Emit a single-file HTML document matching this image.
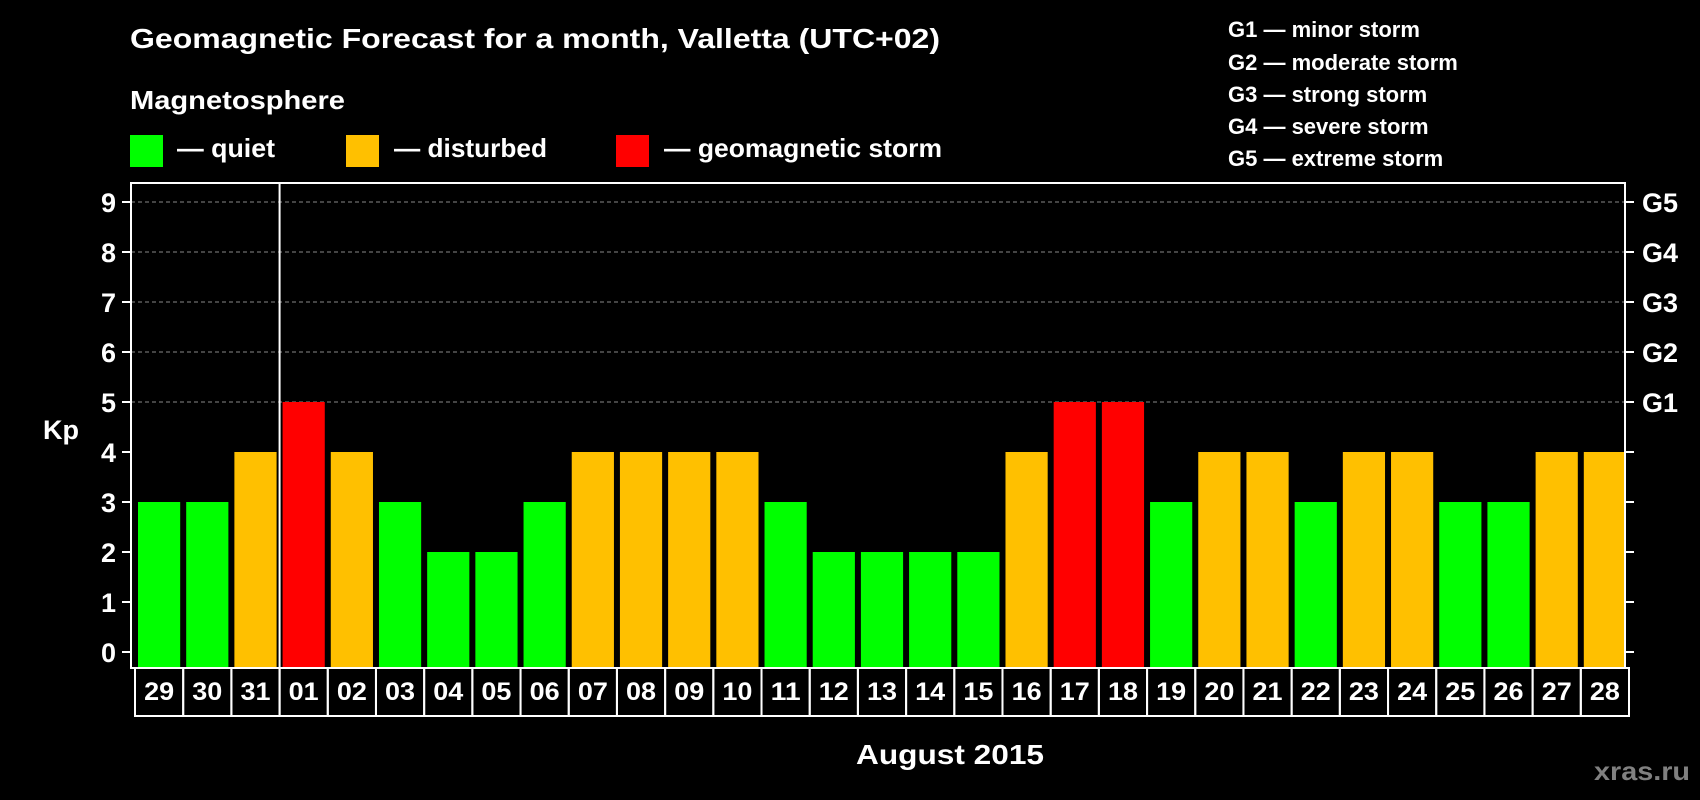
<!DOCTYPE html>
<html><head><meta charset="utf-8"><style>
html,body{margin:0;padding:0;background:#000;}
svg{display:block;font-family:"Liberation Sans",Arial,sans-serif;font-weight:bold;}
</style></head><body>
<svg id="chart" width="1700" height="800" viewBox="0 0 1700 800">
<rect width="1700" height="800" fill="#000"/>
<text x="130" y="48" font-size="28" fill="#fff" textLength="810" lengthAdjust="spacingAndGlyphs">Geomagnetic Forecast for a month, Valletta (UTC+02)</text>
<text x="130" y="109" font-size="26" fill="#fff" textLength="215" lengthAdjust="spacingAndGlyphs">Magnetosphere</text>
<rect x="130" y="135" width="33" height="32" fill="#00ff00"/>
<text x="177" y="157" font-size="26" fill="#fff" textLength="98" lengthAdjust="spacingAndGlyphs">— quiet</text>
<rect x="346" y="135" width="33" height="32" fill="#ffc000"/>
<text x="394" y="157" font-size="26" fill="#fff" textLength="153" lengthAdjust="spacingAndGlyphs">— disturbed</text>
<rect x="616" y="135" width="33" height="32" fill="#ff0000"/>
<text x="664" y="157" font-size="26" fill="#fff" textLength="278" lengthAdjust="spacingAndGlyphs">— geomagnetic storm</text>
<g font-size="22" fill="#fff">
<text x="1228" y="37">G1 — minor storm</text>
<text x="1228" y="70">G2 — moderate storm</text>
<text x="1228" y="102">G3 — strong storm</text>
<text x="1228" y="134">G4 — severe storm</text>
<text x="1228" y="166">G5 — extreme storm</text>
</g>
<g id="plot"></g>
<text x="43" y="439" font-size="27" fill="#fff">Kp</text>
<text x="950" y="764" font-size="28" fill="#fff" text-anchor="middle" textLength="188" lengthAdjust="spacingAndGlyphs">August 2015</text>
<text x="1690" y="780" font-size="26" fill="#808080" text-anchor="end" textLength="96" lengthAdjust="spacingAndGlyphs">xras.ru</text>
</svg>
<script>
const days = ["29","30","31","01","02","03","04","05","06","07","08","09","10","11","12","13","14","15","16","17","18","19","20","21","22","23","24","25","26","27","28"];
const kpValues = [3,3,4,5,4,3,2,2,3,4,4,4,4,3,2,2,2,2,4,5,5,3,4,4,3,4,4,3,3,4,4];
const yTicks = [0,1,2,3,4,5,6,7,8,9];
const gLabels = ["","","","","","G1","G2","G3","G4","G5"];

const NS = "http://www.w3.org/2000/svg";
const plot = document.getElementById('plot');
const L = 131, R = 1625, T = 183, B = 668, BOXB = 716;
const pitch = (R - L) / days.length;
const y = v => 652 - v * 50;
const xStart = i => L + 7 + i * pitch;
function mk(tag, attrs) { const e = document.createElementNS(NS, tag); for (const k in attrs) e.setAttribute(k, attrs[k]); plot.appendChild(e); return e; }

yTicks.forEach((t, i) => {
  if (t >= 5) {
    const g = mk('line', {x1: L, x2: R, y1: y(t), y2: y(t), stroke: '#888', 'stroke-width': 1, 'stroke-dasharray': '4,3'});
    
    
  }
  const lt = mk('line', {x1: L - 9, x2: L, y1: y(t), y2: y(t), stroke: '#fff', 'stroke-width': 2});
  
  
  const rt = mk('line', {x1: R, x2: R + 9, y1: y(t), y2: y(t), stroke: '#fff', 'stroke-width': 2});
  
  
  const tl = mk('text', {x: 116, y: y(t) + 10, 'font-size': 27, fill: '#fff', 'text-anchor': 'end'});
  tl.textContent = String(t);
  
  
  if (gLabels[i]) {
    const gl = mk('text', {x: 1642, y: y(t) + 10, 'font-size': 27, fill: '#fff'});
    gl.textContent = gLabels[i];
    
    
  }
});

kpValues.forEach((v, i) => {
  const col = v >= 5 ? '#ff0000' : (v >= 4 ? '#ffc000' : '#00ff00');
  const b = mk('rect', {x: xStart(i), y: y(v), width: pitch - 6, height: B - y(v), fill: col});
  
  
  const bx = mk('rect', {x: L + 4 + i * pitch, y: B, width: pitch, height: BOXB - B, fill: 'none', stroke: '#fff', 'stroke-width': 2});
  
  
  const dl = mk('text', {x: L + 4 + i * pitch + pitch / 2, y: 700, 'font-size': 25, fill: '#fff', 'text-anchor': 'middle', textLength: 30, lengthAdjust: 'spacingAndGlyphs'});
  dl.textContent = days[i];
  
  
});

const frame = mk('rect', {x: L, y: T, width: R - L, height: B - T, fill: 'none', stroke: '#fff', 'stroke-width': 2});


const mi = days.indexOf("01");
const div = mk('line', {x1: L + 4 + mi * pitch, x2: L + 4 + mi * pitch, y1: T, y2: BOXB, stroke: '#fff', 'stroke-width': 2});


</script>
</body></html>
